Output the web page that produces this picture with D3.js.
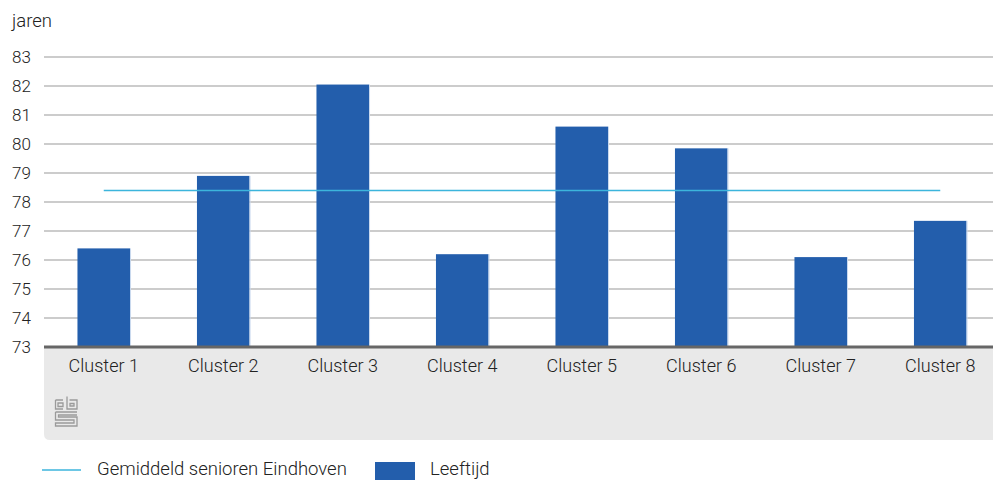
<!DOCTYPE html>
<html>
<head>
<meta charset="utf-8">
<script src="https://cdn.jsdelivr.net/npm/d3@7"></script>
<style>
  body { margin: 0; background: #fff; }
  svg text { font-family: Roboto, "Noto Sans", sans-serif; fill: #222; font-weight: 300; }
</style>
</head>
<body>
<div id="chart"></div>
<script>
// data
var categories = ["Cluster 1", "Cluster 2", "Cluster 3", "Cluster 4", "Cluster 5", "Cluster 6", "Cluster 7", "Cluster 8"];
var leeftijd = [76.4, 78.9, 82.05, 76.2, 80.6, 79.85, 76.1, 77.35];
var gemiddeld = 78.4;
var yTicks = [73, 74, 75, 76, 77, 78, 79, 80, 81, 82, 83];

var W = 993, H = 481;
var margin = { top: 57, left: 44 };
var plotBottom = 347;

var svg = d3.select("#chart").append("svg")
    .attr("width", W)
    .attr("height", H);

var x = d3.scaleBand()
    .domain(categories)
    .range([margin.left, 1000])
    .paddingInner(0.56)
    .paddingOuter(0.28);

var y = d3.scaleLinear()
    .domain([73, 83])
    .range([plotBottom, margin.top]);

// grey panel under axis
svg.append("path")
    .attr("d", "M44,348 H993 V440 H50 Q44,440 44,434 Z")
    .attr("fill", "#e9e9e9");

// gridlines
svg.append("g")
    .selectAll("line")
    .data(yTicks.slice(1))
    .enter()
    .append("line")
    .attr("x1", margin.left)
    .attr("x2", W)
    .attr("y1", d => y(d))
    .attr("y2", d => y(d))
    .attr("stroke", "#999")
    .attr("stroke-width", 1);

// y tick labels
svg.append("g")
    .selectAll("text")
    .data(yTicks)
    .enter()
    .append("text")
    .attr("x", 12)
    .attr("y", d => y(d) + 6)
    .attr("font-size", 17)
    .text(d => d);

svg.append("text")
    .attr("x", 12)
    .attr("y", 27)
    .attr("font-size", 18.5)
    .text("jaren");

// bars
svg.append("g")
    .selectAll("rect")
    .data(leeftijd)
    .enter()
    .append("rect")
    .attr("x", (d, i) => x(categories[i]))
    .attr("y", d => y(d))
    .attr("width", x.bandwidth())
    .attr("height", d => plotBottom - y(d))
    .attr("fill", "#235eac");

// light edge on right of bars
svg.append("g")
    .selectAll("line")
    .data(leeftijd)
    .enter()
    .append("line")
    .attr("x1", (d, i) => x(categories[i]) + x.bandwidth() + 0.5)
    .attr("x2", (d, i) => x(categories[i]) + x.bandwidth() + 0.5)
    .attr("y1", d => y(d))
    .attr("y2", plotBottom)
    .attr("stroke", "#c8d8ee")
    .attr("stroke-width", 1);

// average line
var first = categories[0], last = categories[categories.length - 1];
svg.append("line")
    .attr("x1", x(first) + x.bandwidth() / 2)
    .attr("x2", x(last) + x.bandwidth() / 2)
    .attr("y1", y(gemiddeld))
    .attr("y2", y(gemiddeld))
    .attr("stroke", "#3cb5dc")
    .attr("stroke-width", 1.5);

// x axis line
svg.append("line")
    .attr("x1", margin.left)
    .attr("x2", W)
    .attr("y1", plotBottom)
    .attr("y2", plotBottom)
    .attr("stroke", "#666")
    .attr("stroke-width", 3);

// x labels
svg.append("g")
    .selectAll("text")
    .data(categories)
    .enter()
    .append("text")
    .attr("x", d => x(d) + x.bandwidth() / 2)
    .attr("y", 372)
    .attr("text-anchor", "middle")
    .attr("font-size", 18)
    .text(d => d);

// cbs logo
var logo = svg.append("g")
    .attr("transform", "translate(55,396)")
    .attr("fill", "none")
    .attr("stroke", "#9a9a9a")
    .attr("stroke-width", 1.3);
logo.append("path").attr("d", "M0.5,4 H8 M0.5,4 V13 H8 M3,7 H8 V10.5 H3 Z");
logo.append("path").attr("d", "M12,0.5 V13 H22 V4 H14.5 M15,7.5 H19 V10 H15 Z");
logo.append("path").attr("d", "M0.5,16 H22 M0.5,16 V24 H19 V27 H0.5 V30 H22 V21 H3.5 V19 H22");

// legend
svg.append("line")
    .attr("x1", 42).attr("x2", 81)
    .attr("y1", 470).attr("y2", 470)
    .attr("stroke", "#3cb5dc")
    .attr("stroke-width", 1.5);
svg.append("text")
    .attr("x", 97).attr("y", 475)
    .attr("font-size", 18.5)
    .text("Gemiddeld senioren Eindhoven");
svg.append("rect")
    .attr("x", 375).attr("y", 462)
    .attr("width", 40).attr("height", 18)
    .attr("fill", "#235eac");
svg.append("text")
    .attr("x", 430).attr("y", 475)
    .attr("font-size", 18.5)
    .text("Leeftijd");
</script>
</body>
</html>
